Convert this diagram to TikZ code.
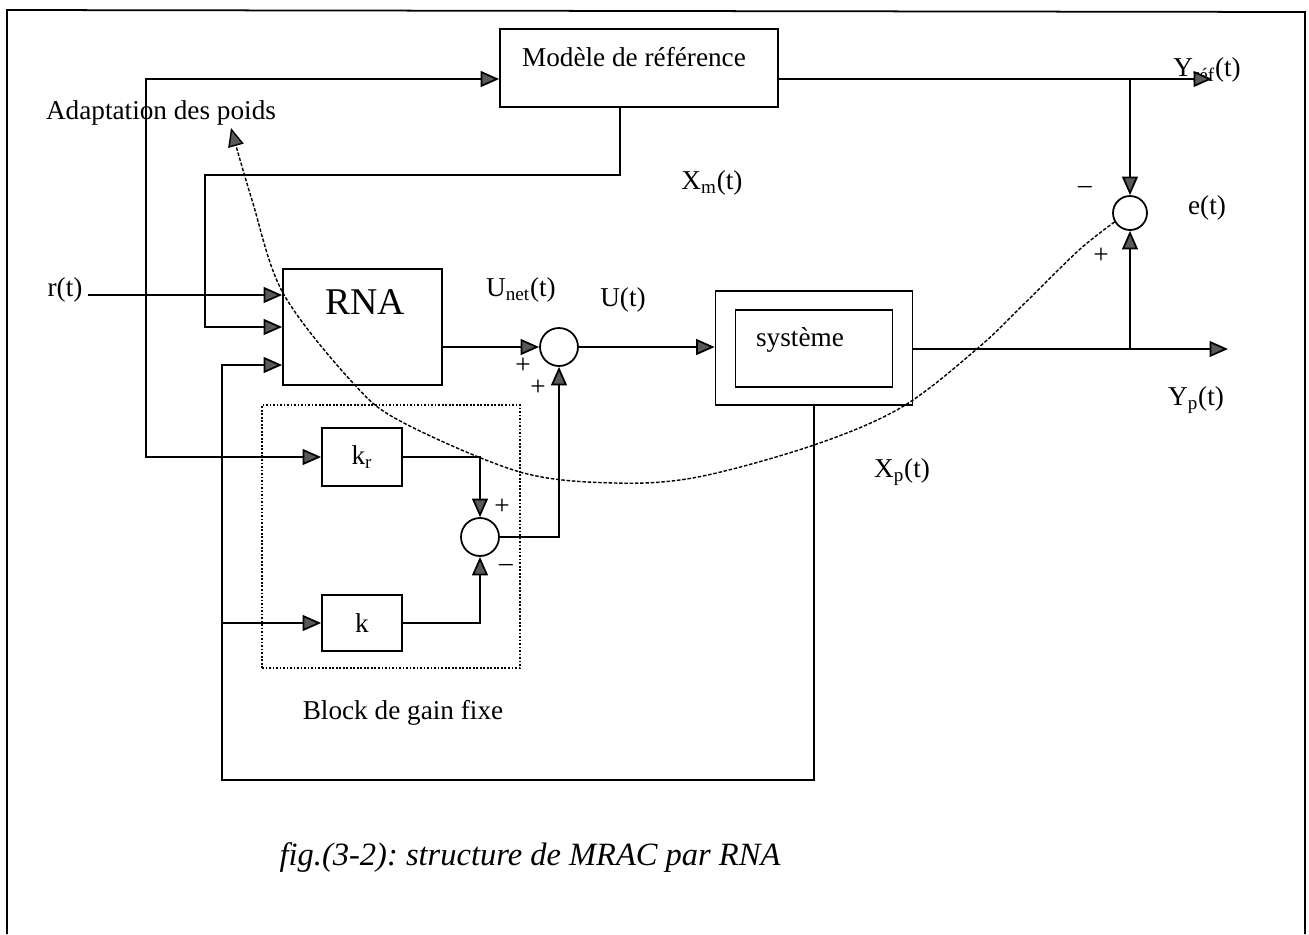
\documentclass[tikz,border=0pt]{standalone}
\usepackage{fontspec}
\setmainfont{Liberation Serif}
\usetikzlibrary{positioning, arrows.meta, calc}

\begin{document}
\frenchspacing
\begin{tikzpicture}[
      x=0.02cm, y=-0.02cm,
      line width=1pt,
      every node/.style={font=\fontsize{15.5}{18}\selectfont},
      blk/.style={draw, inner sep=0pt},
      sumc/.style={draw, circle, minimum size=0.76cm, inner sep=0pt},
      adapt/.style={dash pattern=on 2pt off 1pt, line width=0.8pt},
      >={Triangle[length=10.5pt, width=9pt, fill=black!65]},
    ]
    \useasboundingbox (0,0) rectangle (1309,934);
    \draw (7,934) -- (7,10) -- (1305,12) -- (1305,934);

    % blocks
    \node[blk, minimum width=5.56cm, minimum height=1.56cm] (model) at (639,68) {};
    \node (modtxt) at (634,57) {Modèle de référence};
    \node[blk, minimum width=3.18cm, minimum height=2.32cm] (rna) at (362.5,327) {};
    \node[font=\fontsize{21.5}{24}\selectfont] (rnatxt) at (365,302) {RNA};
    \node[blk, minimum width=3.94cm, minimum height=2.28cm] (sysout) at (814,348) {};
    \node[blk, minimum width=3.14cm, minimum height=1.54cm] (sysin) at (814,348.5) {};
    \node (systxt) at (800,340) {système};
    \node[draw, densely dotted, minimum width=5.16cm, minimum height=5.26cm] (gain) at (391,536.5) {};
    \node[blk, minimum width=1.6cm, minimum height=1.16cm] (kr) at (362,457) {k\textsubscript{r}};
    \node[blk, minimum width=1.6cm, minimum height=1.12cm] (kk) at (362,623) {k};
    \node[sumc] (s1) at (559,347) {};
    \node[sumc] (s2) at (480,537) {};
    \node[sumc, minimum size=0.68cm] (s3) at (1130,213) {};

    % labels
    \node (rt) at (65,290) {r(t)};
    \node (adtxt) at (161,113) {Adaptation des poids};
    \node (unet) at (521,290) {U\textsubscript{net}(t)};
    \node (ut) at (623,300) {U(t)};
    \node (xm) at (712,183) {X\textsubscript{m}(t)};
    \node (yreft) at (1207,70) {Y\textsubscript{réf}(t)};
    \node (et) at (1207,208) {e(t)};
    \node (ypt) at (1196,400) {Y\textsubscript{p}(t)};
    \node (xp) at (902,472) {X\textsubscript{p}(t)};
    \node (gaintxt) at (403,713) {Block de gain fixe};
    \node[font=\fontsize{18.5}{22}\selectfont\itshape] (caption) at (530,858) {fig.(3-2): structure de MRAC par RNA};
    \node at (523,366) {+};
    \node at (538,388) {+};
    \node at (502,507) {+};
    \node at (506,568) {\textendash};
    \node at (1085,190) {\textendash};
    \node at (1101,256) {+};

    % junctions and free ends
    \coordinate (rin) at (88,295);
    \coordinate (jr) at (146,295);
    \coordinate (jm) at (1130,79);
    \coordinate (yref) at (1212,79);
    \coordinate (jp) at (1130,349);
    \coordinate (yp) at (1228,349);
    \coordinate (tip) at (231,128);

    % connectors
    \draw (rin) -- (jr);
    \draw[->] (jr) -- (jr -| rna.west);
    \draw[->] (jr) |- (model.west |- jm);
    \draw[->] (jr) |- (kr.west);
    \draw[->] (620,0 |- model.south) -- (620,175) -| (205,327) -- (rna.west);
    \draw[->] (sysout.south) -- (814,780) -| (222,365) -- (222,365 -| rna.west);
    \draw[->] (222,0 |- kk.west) -- (kk.west);
    \draw[->] (kr.east) -| (s2.north);
    \draw[->] (kk.east) -| (s2.south);
    \draw[->] (s2.east) -| (s1.south);
    \draw[->] (rna.east |- s1.west) -- (s1.west);
    \draw[->] (s1.east) -- (sysout.west |- s1.east);
    \draw[->] (sysout.east |- jp) -- (yp);
    \draw[->] (jp) -- (s3.south);
    \draw[->] (model.east |- jm) -- (yref);
    \draw[->] (jm) -- (s3.north);
    \draw[adapt, ->] plot[smooth, tension=0.55] coordinates {(s3.210) (1079,250) (1028,300) (978,348) (902,407) (814,445) (698,477) (615,483) (520,472) (402,422) (353,383) (283,293) (252,200) (tip)};
  \end{tikzpicture}
\end{document}
